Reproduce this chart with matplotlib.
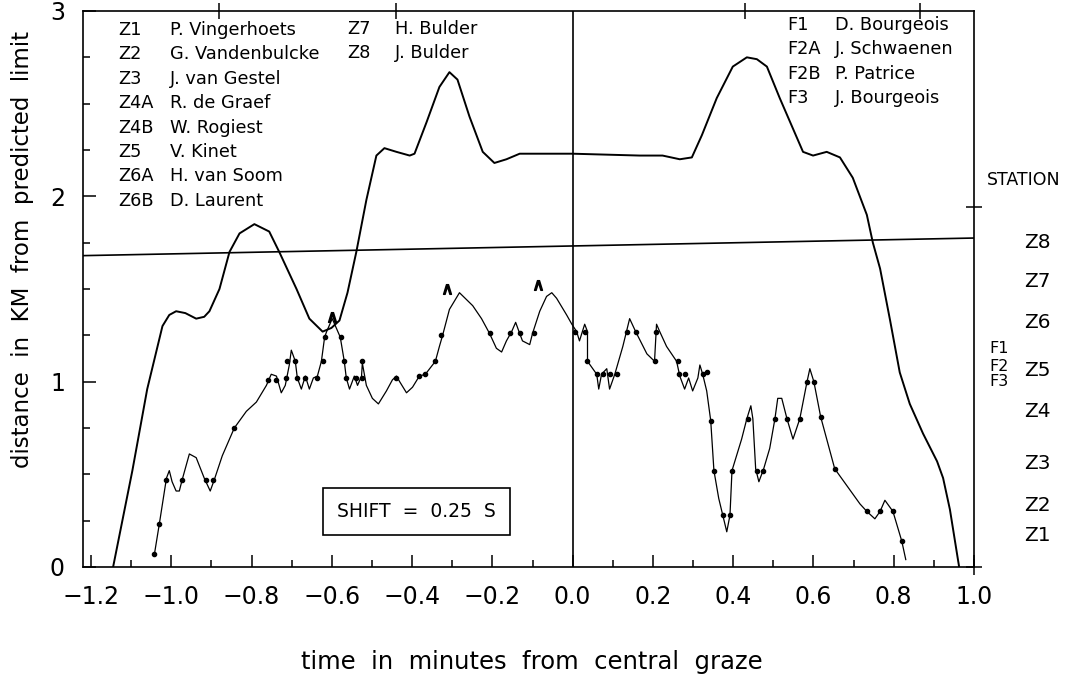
import numpy as np
import matplotlib
matplotlib.use('Agg')
import matplotlib.pyplot as plt
from matplotlib.ticker import MultipleLocator, FuncFormatter

# predicted limb profile (upper curve), km vs minutes
upper_x = [-1.145, -1.097, -1.060, -1.022, -1.005, -0.988, -0.965, -0.938, -0.918, -0.905,
           -0.880, -0.855, -0.830, -0.793, -0.756, -0.731, -0.688, -0.656, -0.623, -0.601,
           -0.581, -0.561, -0.539, -0.514, -0.489, -0.469, -0.439, -0.406, -0.394, -0.364,
           -0.332, -0.307, -0.287, -0.257, -0.224, -0.195, -0.165, -0.132, 0.0, 0.167,
           0.224, 0.267, 0.297, 0.322, 0.359, 0.399, 0.434, 0.459, 0.484, 0.516,
           0.546, 0.574, 0.599, 0.633, 0.666, 0.698, 0.733, 0.748, 0.766, 0.791,
           0.815, 0.840, 0.873, 0.908, 0.923, 0.940, 0.960, 0.963]
upper_y = [0.0, 0.52, 0.96, 1.30, 1.36, 1.38, 1.37, 1.34, 1.35, 1.38,
           1.50, 1.70, 1.80, 1.85, 1.81, 1.70, 1.50, 1.34, 1.27, 1.29,
           1.33, 1.48, 1.70, 1.98, 2.22, 2.26, 2.24, 2.22, 2.23, 2.40,
           2.59, 2.67, 2.63, 2.43, 2.24, 2.18, 2.20, 2.23, 2.23, 2.22,
           2.22, 2.20, 2.21, 2.33, 2.53, 2.70, 2.75, 2.74, 2.70, 2.53,
           2.38, 2.24, 2.22, 2.24, 2.21, 2.10, 1.90, 1.75, 1.61, 1.33,
           1.05, 0.88, 0.72, 0.57, 0.48, 0.31, 0.04, 0.0]

# observed profile (lower curve)
obs_x = [-1.042, -1.030, -1.017, -1.012, -1.005, -0.998, -0.988, -0.980, -0.973, -0.955,
         -0.938, -0.918, -0.903, -0.893, -0.873, -0.843, -0.813, -0.788, -0.763, -0.751,
         -0.738, -0.726, -0.716, -0.706, -0.701, -0.691, -0.686, -0.676, -0.666, -0.656,
         -0.646, -0.636, -0.626, -0.618, -0.613, -0.599, -0.579, -0.569, -0.564, -0.556,
         -0.544, -0.536, -0.526, -0.524, -0.514, -0.499, -0.484, -0.464, -0.449, -0.439,
         -0.431, -0.414, -0.399, -0.382, -0.367, -0.342, -0.332, -0.324, -0.307, -0.282,
         -0.249, -0.227, -0.207, -0.190, -0.177, -0.165, -0.152, -0.142, -0.132, -0.125,
         -0.107, -0.100, -0.082, -0.065, -0.052, -0.040, -0.015, -0.002, 0.010, 0.017,
         0.030, 0.037, 0.037, 0.060, 0.065, 0.072, 0.085, 0.092, 0.105, 0.125,
         0.142, 0.157, 0.185, 0.204, 0.209, 0.217, 0.234, 0.259, 0.267, 0.279,
         0.289, 0.299, 0.312, 0.317, 0.324, 0.334, 0.344, 0.352, 0.364, 0.374,
         0.384, 0.392, 0.397, 0.421, 0.434, 0.444, 0.449, 0.456, 0.464, 0.476,
         0.491, 0.504, 0.511, 0.521, 0.534, 0.549, 0.566, 0.584, 0.591, 0.601,
         0.618, 0.653, 0.683, 0.716, 0.733, 0.753, 0.766, 0.778, 0.798, 0.820,
         0.830]
obs_y = [0.07, 0.23, 0.41, 0.48, 0.52, 0.46, 0.41, 0.41, 0.47, 0.61,
         0.59, 0.48, 0.41, 0.47, 0.60, 0.75, 0.84, 0.89, 0.98, 1.04,
         1.03, 0.94, 0.98, 1.09, 1.17, 1.11, 1.02, 0.96, 1.03, 0.96,
         1.02, 1.03, 1.11, 1.24, 1.27, 1.34, 1.24, 1.11, 1.02, 0.96,
         1.03, 0.98, 1.03, 1.10, 0.98, 0.91, 0.88, 0.95, 1.01, 1.03,
         1.00, 0.94, 0.97, 1.03, 1.04, 1.11, 1.19, 1.25, 1.39, 1.48,
         1.41, 1.34, 1.26, 1.18, 1.16, 1.22, 1.27, 1.32, 1.26, 1.22,
         1.20, 1.26, 1.38, 1.46, 1.48, 1.45, 1.36, 1.31, 1.27, 1.22,
         1.31, 1.27, 1.11, 1.04, 0.96, 1.04, 1.07, 0.96, 1.04, 1.19,
         1.34, 1.27, 1.15, 1.11, 1.31, 1.27, 1.19, 1.11, 1.03, 0.96,
         1.02, 0.95, 1.02, 1.09, 1.04, 0.95, 0.79, 0.52, 0.37, 0.28,
         0.19, 0.28, 0.52, 0.69, 0.80, 0.87, 0.80, 0.53, 0.46, 0.53,
         0.64, 0.80, 0.91, 0.91, 0.80, 0.69, 0.80, 1.00, 1.07, 1.00,
         0.81, 0.53, 0.44, 0.34, 0.30, 0.26, 0.30, 0.36, 0.30, 0.14,
         0.04]

# timed events (dots)
dot_x = [-1.042, -1.030, -1.012, -0.973, -0.913, -0.895, -0.843, -0.758, -0.738, -0.713,
         -0.711, -0.693, -0.686, -0.666, -0.636, -0.623, -0.618, -0.576, -0.569, -0.564,
         -0.539, -0.526, -0.524, -0.439, -0.382, -0.367, -0.342, -0.327, -0.207, -0.155,
         -0.132, -0.097, 0.005, 0.032, 0.037, 0.060, 0.075, 0.092, 0.110, 0.135,
         0.157, 0.207, 0.204, 0.262, 0.264, 0.279, 0.324, 0.334, 0.344, 0.352,
         0.374, 0.392, 0.397, 0.436, 0.459, 0.474, 0.504, 0.534, 0.566, 0.584,
         0.601, 0.618, 0.653, 0.733, 0.766, 0.798, 0.820]
dot_y = [0.07, 0.23, 0.47, 0.47, 0.47, 0.47, 0.75, 1.01, 1.01, 1.02,
         1.11, 1.11, 1.02, 1.02, 1.02, 1.11, 1.24, 1.24, 1.11, 1.02,
         1.02, 1.02, 1.11, 1.02, 1.03, 1.04, 1.11, 1.25, 1.26, 1.26,
         1.26, 1.26, 1.27, 1.27, 1.11, 1.04, 1.04, 1.04, 1.04, 1.27,
         1.27, 1.27, 1.11, 1.11, 1.04, 1.04, 1.04, 1.05, 0.79, 0.52,
         0.28, 0.28, 0.52, 0.80, 0.52, 0.52, 0.80, 0.80, 0.80, 1.00,
         1.00, 0.81, 0.53, 0.30, 0.30, 0.30, 0.14]

# small "^" marks
caret_x = [-0.600, -0.314, -0.087]
caret_y = [1.35, 1.50, 1.52]

# limit line
limit_x = [-1.22, 1.0]
limit_y = [1.68, 1.775]

# extra ticks on top and right frame
top_ticks = [-0.88, -0.44, 0.43, 0.865]
right_ticks = [1.94]

# observers
codes_1 = ['Z1', 'Z2', 'Z3', 'Z4A', 'Z4B', 'Z5', 'Z6A', 'Z6B']
names_1 = ['P. Vingerhoets', 'G. Vandenbulcke', 'J. van Gestel', 'R. de Graef',
           'W. Rogiest', 'V. Kinet', 'H. van Soom', 'D. Laurent']
codes_2 = ['Z7', 'Z8']
names_2 = ['H. Bulder', 'J. Bulder']
codes_3 = ['F1', 'F2A', 'F2B', 'F3']
names_3 = ['D. Bourgeois', 'J. Schwaenen', 'P. Patrice', 'J. Bourgeois']

# station offsets on the right
z_stations = ['Z8', 'Z7', 'Z6', 'Z5', 'Z4', 'Z3', 'Z2', 'Z1']
z_pos = [1.75, 1.54, 1.32, 1.06, 0.84, 0.56, 0.33, 0.17]
f_stations = ['F1', 'F2', 'F3']
f_pos = [1.18, 1.08, 1.00]

W, H = 1070, 682
fig = plt.figure(figsize=(W / 100, H / 100), dpi=100)
ax = fig.add_axes([83 / W, 1 - 567 / H, 891 / W, 556 / H])

ax.plot(upper_x, upper_y, color='black', lw=1.4)
ax.plot(obs_x, obs_y, color='black', lw=0.9)
ax.plot(dot_x, dot_y, 'o', color='black', ms=3)
ax.plot(caret_x, caret_y, ls='none', marker=r'$\wedge$', color='black', ms=7)
ax.plot(limit_x, limit_y, color='black', lw=1.2)
ax.axvline(0.0, color='black', lw=1.2)

ax.set_xlim(-1.22, 1.0)
ax.set_ylim(0, 3)
for s in ax.spines.values():
    s.set_linewidth(1.2)

ax.xaxis.set_major_locator(MultipleLocator(0.2))
ax.xaxis.set_minor_locator(MultipleLocator(0.1))
ax.yaxis.set_major_locator(MultipleLocator(1))
ax.yaxis.set_minor_locator(MultipleLocator(0.25))
ax.xaxis.set_major_formatter(FuncFormatter(lambda v, p: f'{v:.1f}'.replace('-', '\u2212')))
ax.yaxis.set_major_formatter(FuncFormatter(lambda v, p: f'{v:.0f}'))
ax.tick_params(which='major', direction='in', length=9, width=1.1, labelsize=17)
ax.tick_params(axis='x', which='major', pad=13)
ax.tick_params(axis='y', which='major', pad=13)
ax.tick_params(which='minor', direction='in', length=5, width=1.1)

ax.plot(top_ticks, [3] * len(top_ticks), '|', color='black', ms=12, mew=1.1, clip_on=False)
ax.plot([1.0] * len(right_ticks), right_ticks, '_', color='black', ms=12, mew=1.1, clip_on=False)
ax.plot([1.0], [0.0], '+', color='black', ms=12, mew=1.1, clip_on=False)

ax.set_xlabel('time  in  minutes  from  central  graze', fontsize=17.5)
ax.xaxis.set_label_coords((532 - 83) / 891, (567 - 650) / 556)
ax.set_ylabel('distance  in  KM  from  predicted  limit', fontsize=16.5)
ax.yaxis.set_label_coords((34 - 83) / 891, (567 - 250) / 556)

# observer legend
fs = 12.8
for i, (c, n) in enumerate(zip(codes_1, names_1)):
    fig.text(118 / W, 1 - (30 + 24.4 * i) / H, c, fontsize=fs, va='center')
    fig.text(170 / W, 1 - (30 + 24.4 * i) / H, n, fontsize=fs, va='center')
for i, (c, n) in enumerate(zip(codes_2, names_2)):
    fig.text(347 / W, 1 - (29 + 24.4 * i) / H, c, fontsize=fs, va='center')
    fig.text(395 / W, 1 - (29 + 24.4 * i) / H, n, fontsize=fs, va='center')
for i, (c, n) in enumerate(zip(codes_3, names_3)):
    fig.text(787 / W, 1 - (25 + 24.4 * i) / H, c, fontsize=fs, va='center')
    fig.text(835 / W, 1 - (25 + 24.4 * i) / H, n, fontsize=fs, va='center')

ax.text(-0.389, 0.30, 'SHIFT  =  0.25  S', fontsize=13.5, ha='center', va='center',
        bbox=dict(boxstyle='square,pad=0.75', fc='white', ec='black', lw=1.2))

# station labels outside the frame
tr = ax.get_yaxis_transform()
ax.text(1.056, 2.09, 'STATION', transform=tr, fontsize=12.5, ha='center', va='center', clip_on=False)
for s, y in zip(z_stations, z_pos):
    ax.text(1.071, y, s, transform=tr, fontsize=14.5, ha='center', va='center', clip_on=False)
for s, y in zip(f_stations, f_pos):
    ax.text(1.028, y, s, transform=tr, fontsize=11.5, ha='center', va='center', clip_on=False)

fig.savefig('out.png', dpi=100)
